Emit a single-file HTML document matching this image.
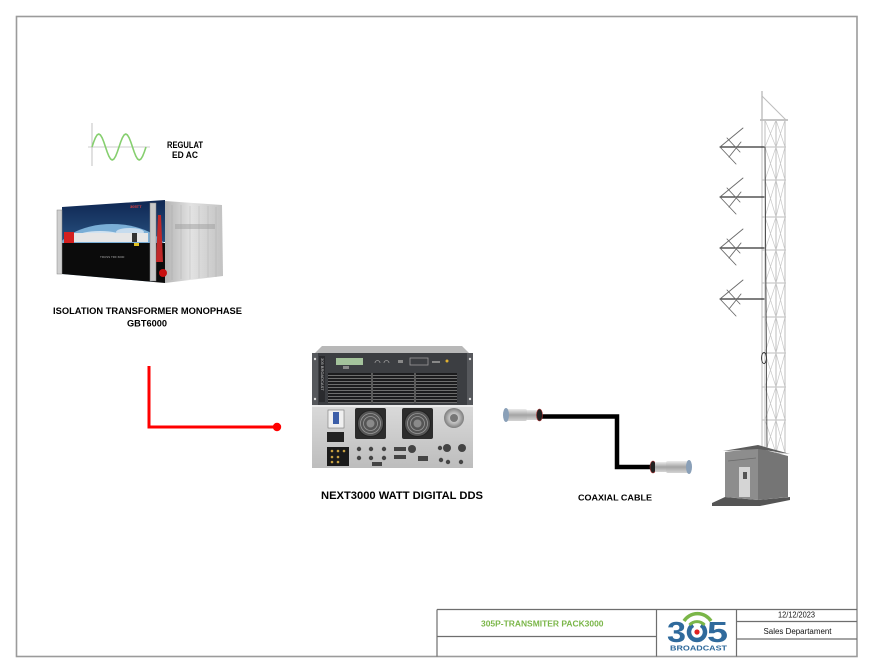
<!DOCTYPE html>
<html><head><meta charset="utf-8"><style>
html,body{margin:0;padding:0;background:#fff;}
svg{display:block;}
text{font-family:"Liberation Sans",Arial,sans-serif;}
</style></head><body>
<svg width="875" height="670" viewBox="0 0 875 670" xmlns="http://www.w3.org/2000/svg">
<defs>
 <linearGradient id="side" x1="0" x2="1" y1="0" y2="0">
  <stop offset="0" stop-color="#b4b4b4"/><stop offset="0.45" stop-color="#e2e2e2"/><stop offset="1" stop-color="#c2c2c2"/>
 </linearGradient>
 <linearGradient id="metal" x1="0" x2="0" y1="0" y2="1">
  <stop offset="0" stop-color="#ececec"/><stop offset="0.5" stop-color="#a4a4a4"/><stop offset="1" stop-color="#d4d4d4"/>
 </linearGradient>
 <radialGradient id="knob"><stop offset="0" stop-color="#f2f2f2"/><stop offset="0.6" stop-color="#b4b4b4"/><stop offset="1" stop-color="#7c7c7c"/></radialGradient>
 <pattern id="vent" width="4" height="3" patternUnits="userSpaceOnUse"><rect width="4" height="3" fill="#1c1c1e"/><rect y="0" width="4" height="1" fill="#6e6e6e"/></pattern>
 <linearGradient id="sky" x1="0" x2="0" y1="0" y2="1"><stop offset="0" stop-color="#0e2550"/><stop offset="1" stop-color="#27507f"/></linearGradient>
 <linearGradient id="lower" x1="0" x2="0" y1="0" y2="1"><stop offset="0" stop-color="#dadada"/><stop offset="1" stop-color="#bdbdbd"/></linearGradient>
 <clipPath id="front"><polygon points="62,207 165,200 165,283 62,274"/></clipPath>
</defs>

<!-- page frame -->
<rect x="16.5" y="16.5" width="840.5" height="640" fill="none" stroke="#9b9b9b" stroke-width="1.6"/>

<!-- sine wave -->
<g stroke="#9a9a9a" stroke-width="0.6">
 <line x1="92" y1="123" x2="92" y2="166"/>
 <line x1="88" y1="147" x2="150" y2="147"/>
</g>
<polyline fill="none" stroke="#86cf6f" stroke-width="1.6" stroke-linejoin="round" points="92,147 93.69,142 95.38,137.8 97.06,135 98.75,134 100.44,135 102.13,137.8 103.81,142 105.5,147 107.19,152 108.88,156.2 110.56,159 112.25,160 113.94,159 115.63,156.2 117.31,152 119,147 120.69,142 122.38,137.8 124.06,135 125.75,134 127.44,135 129.13,137.8 130.81,142 132.5,147 134.19,152 135.88,156.2 137.56,159 139.25,160 140.94,159 142.63,156.2 144.31,152 146,147"/>
<text x="167" y="148" font-size="9" font-weight="bold" textLength="36" lengthAdjust="spacingAndGlyphs">REGULAT</text>
<text x="172" y="158" font-size="9" font-weight="bold" textLength="26" lengthAdjust="spacingAndGlyphs">ED AC</text>

<!-- isolation transformer -->
<polygon points="165,201 222,205 223,276 165,283" fill="url(#side)"/>
<g stroke="#8e8e8e" stroke-width="0.5" opacity="0.45">
 <line x1="172" y1="205" x2="172" y2="280"/><line x1="181" y1="205" x2="181" y2="279"/><line x1="190" y1="206" x2="190" y2="279"/>
 <line x1="199" y1="206" x2="199" y2="278"/><line x1="208" y1="206" x2="208" y2="277"/><line x1="216" y1="207" x2="216" y2="277"/>
</g>
<rect x="175" y="224" width="40" height="5" fill="#9a9a9a" opacity="0.45"/>
<g clip-path="url(#front)">
 <rect x="60" y="198" width="110" height="44" fill="url(#sky)"/>
 <ellipse cx="112" cy="258" rx="58" ry="34" fill="#7aaed6"/>
 <ellipse cx="100" cy="236" rx="22" ry="5" fill="#e8f0f8" opacity="0.8"/>
 <ellipse cx="130" cy="232" rx="14" ry="4" fill="#e8f0f8" opacity="0.7"/>
 <polygon points="60,243 170,243 170,290 60,290" fill="#0b0b0b"/>
</g>
<rect x="68" y="233" width="80" height="9" fill="#e6e6e6"/>
<rect x="64" y="232" width="10" height="11" fill="#d42020"/>
<rect x="132" y="233" width="5" height="9" fill="#333"/>
<rect x="134" y="243" width="5" height="3" fill="#e0c020"/>
<text x="100" y="258" font-size="3" fill="#aaa">TRUSS TRF 6000</text>
<rect x="57" y="210" width="5" height="64" fill="#cfcfcf" stroke="#888" stroke-width="0.5"/>
<rect x="150" y="203" width="6" height="78" fill="#c8c8c8" stroke="#888" stroke-width="0.5"/>
<polygon points="158,215 161,215 163,262 156,262" fill="#c02828"/>
<circle cx="163" cy="273" r="4" fill="#c81010"/>
<text x="130" y="208" font-size="4" fill="#e04040" font-weight="bold">305TT</text>
<text x="53" y="314" font-size="9.5" font-weight="bold" textLength="189" lengthAdjust="spacingAndGlyphs">ISOLATION TRANSFORMER MONOPHASE</text>
<text x="127" y="326.5" font-size="9.5" font-weight="bold" textLength="40" lengthAdjust="spacingAndGlyphs">GBT6000</text>

<!-- red connector -->
<path d="M149,366 V427 H277" fill="none" stroke="#ff0000" stroke-width="3"/>
<circle cx="277" cy="427" r="4.2" fill="#ff0000"/>

<!-- transmitter -->
<polygon points="322,346 462,346 469,353 315,353" fill="#b8b8b8"/>
<rect x="312" y="353" width="161" height="52" fill="#3c3e42"/>
<rect x="312" y="353" width="6" height="52" fill="#56585c"/>
<rect x="467" y="353" width="6" height="52" fill="#56585c"/>
<g fill="#ddd"><circle cx="315" cy="359" r="1.2"/><circle cx="315" cy="399" r="1.2"/><circle cx="470" cy="359" r="1.2"/><circle cx="470" cy="399" r="1.2"/></g>
<rect x="319" y="356" width="6" height="46" fill="#2a2b2e"/>
<text transform="translate(321,358) rotate(90)" font-size="4" fill="#ccc">305 BROADCAST</text>
<rect x="336" y="358" width="27" height="7" fill="#a4c39c"/>
<rect x="343" y="366" width="6" height="3" fill="#8a8a8a"/>
<g fill="none" stroke="#9a9a9a" stroke-width="0.8">
 <path d="M375,363 a2.5,2.5 0 0 1 5,0"/><path d="M384,363 a2.5,2.5 0 0 1 5,0"/>
 <rect x="410" y="358" width="18" height="7"/>
</g>
<rect x="398" y="360" width="5" height="3" fill="#888"/>
<rect x="432" y="361" width="8" height="2" fill="#888"/>
<circle cx="447" cy="361" r="1.5" fill="#e0b030"/>
<rect x="328" y="373" width="129" height="30" fill="url(#vent)"/>
<rect x="371" y="373" width="2" height="30" fill="#5a5a5a"/>
<rect x="414" y="373" width="2" height="30" fill="#5a5a5a"/>
<rect x="312" y="405" width="161" height="63" fill="url(#lower)"/>
<rect x="312" y="405" width="161" height="2" fill="#ececec"/>
<g>
 <rect x="355" y="408" width="31" height="31" rx="2" fill="#2c2c2c"/>
 <circle cx="370.5" cy="423.5" r="13" fill="#555" stroke="#222"/>
 <circle cx="370.5" cy="423.5" r="10" fill="none" stroke="#999" stroke-width="0.8"/>
 <circle cx="370.5" cy="423.5" r="7" fill="none" stroke="#999" stroke-width="0.8"/>
 <circle cx="370.5" cy="423.5" r="4" fill="#8a8a8a"/>
 <rect x="402" y="408" width="31" height="31" rx="2" fill="#2c2c2c"/>
 <circle cx="417.5" cy="423.5" r="13" fill="#555" stroke="#222"/>
 <circle cx="417.5" cy="423.5" r="10" fill="none" stroke="#999" stroke-width="0.8"/>
 <circle cx="417.5" cy="423.5" r="7" fill="none" stroke="#999" stroke-width="0.8"/>
 <circle cx="417.5" cy="423.5" r="4" fill="#8a8a8a"/>
</g>
<circle cx="454" cy="418" r="10" fill="url(#knob)"/>
<circle cx="454" cy="418" r="4" fill="#777"/>
<rect x="328" y="410" width="16" height="18" fill="#f0f0f0" stroke="#777" stroke-width="0.6"/>
<rect x="333" y="412" width="6" height="12" fill="#3c5ea8"/>
<rect x="327" y="432" width="17" height="10" fill="#222"/>
<rect x="327" y="447" width="22" height="19" fill="#1a1a1a"/>
<g fill="#c8a040"><circle cx="332" cy="451" r="1.3"/><circle cx="338" cy="451" r="1.3"/><circle cx="344" cy="451" r="1.3"/><circle cx="332" cy="457" r="1.3"/><circle cx="338" cy="457" r="1.3"/><circle cx="332" cy="462" r="1.3"/><circle cx="338" cy="462" r="1.3"/></g>
<g fill="#444">
 <circle cx="359" cy="449" r="2.2"/><circle cx="359" cy="458" r="2.2"/><circle cx="371" cy="449" r="2.2"/><circle cx="371" cy="458" r="2.2"/>
 <circle cx="384" cy="449" r="2.2"/><circle cx="384" cy="458" r="2.2"/>
 <rect x="394" y="447" width="12" height="4"/><rect x="394" y="455" width="12" height="4"/>
 <rect x="372" y="462" width="10" height="4"/>
 <circle cx="412" cy="449" r="4"/><circle cx="440" cy="448" r="2.2"/><circle cx="447" cy="448" r="4"/><circle cx="462" cy="448" r="4"/>
 <rect x="418" y="456" width="10" height="5"/><circle cx="441" cy="460" r="2.2"/><circle cx="448" cy="462" r="2.2"/><circle cx="461" cy="462" r="2.2"/>
</g>
<text x="321" y="499" font-size="10.7" font-weight="bold" textLength="162" lengthAdjust="spacingAndGlyphs">NEXT3000 WATT DIGITAL DDS</text>

<!-- coaxial cable -->
<path d="M541,416.5 H617 V467 H652" fill="none" stroke="#000" stroke-width="4.5"/>
<rect x="505" y="409" width="22" height="12" rx="2" fill="url(#metal)"/>
<rect x="527" y="410" width="11" height="10" fill="url(#metal)"/>
<ellipse cx="506" cy="415" rx="3" ry="7" fill="#8aa0b8"/>
<ellipse cx="539.5" cy="415" rx="3" ry="6" fill="#222" stroke="#a33" stroke-width="0.6"/>
<ellipse cx="653" cy="467" rx="3" ry="6" fill="#222" stroke="#a33" stroke-width="0.6"/>
<rect x="655" y="462" width="11" height="10" fill="url(#metal)"/>
<rect x="666" y="461" width="23" height="12" rx="2" fill="url(#metal)"/>
<ellipse cx="689" cy="467" rx="3" ry="7" fill="#8aa0b8"/>
<text x="578" y="500.5" font-size="8.5" font-weight="bold" textLength="74" lengthAdjust="spacingAndGlyphs">COAXIAL CABLE</text>

<!-- tower -->
<g stroke="#bdbdbd" stroke-width="1" fill="none">
 <line x1="762" y1="91" x2="762" y2="120" stroke-width="1.4"/>
 <line x1="762" y1="96" x2="786" y2="120"/>
 <line x1="760" y1="120" x2="788" y2="120" stroke-width="1.8"/>
 <line x1="762" y1="120" x2="762" y2="453"/><line x1="765" y1="120" x2="765" y2="453"/>
 <line x1="776" y1="120" x2="776" y2="453"/><line x1="785" y1="120" x2="785" y2="453"/>
 <line x1="762" y1="147" x2="786" y2="147"/><line x1="762" y1="180" x2="786" y2="180"/><line x1="762" y1="217" x2="786" y2="217"/>
 <line x1="762" y1="250" x2="786" y2="250"/><line x1="762" y1="283" x2="786" y2="283"/><line x1="762" y1="317" x2="786" y2="317"/>
 <line x1="762" y1="353" x2="786" y2="353"/><line x1="762" y1="387" x2="786" y2="387"/><line x1="762" y1="420" x2="786" y2="420"/>
 <line x1="762" y1="453" x2="786" y2="453"/>
 <g stroke-width="0.7" stroke="#c8c8c8">
  <path d="M765,120 L776,147 M776,120 L765,147 M776,120 L785,147 M785,120 L776,147"/>
  <path d="M765,147 L776,180 M776,147 L765,180 M776,147 L785,180 M785,147 L776,180"/>
  <path d="M765,180 L776,217 M776,180 L765,217 M776,180 L785,217 M785,180 L776,217"/>
  <path d="M765,217 L776,250 M776,217 L765,250 M776,217 L785,250 M785,217 L776,250"/>
  <path d="M765,250 L776,283 M776,250 L765,283 M776,250 L785,283 M785,250 L776,283"/>
  <path d="M765,283 L776,317 M776,283 L765,317 M776,283 L785,317 M785,283 L776,317"/>
  <path d="M765,317 L776,353 M776,317 L765,353 M776,317 L785,353 M785,317 L776,353"/>
  <path d="M765,353 L776,387 M776,353 L765,387 M776,353 L785,387 M785,353 L776,387"/>
  <path d="M765,387 L776,420 M776,387 L765,420 M776,387 L785,420 M785,387 L776,420"/>
  <path d="M765,420 L776,453 M776,420 L765,453 M776,420 L785,453 M785,420 L776,453"/>
 </g>
</g>
<!-- antennas -->
<g fill="none" stroke-linecap="round">
 <g stroke="#333" stroke-width="1.2">
  <line x1="720" y1="147" x2="764" y2="147"/><line x1="720" y1="197" x2="764" y2="197"/>
  <line x1="720" y1="248" x2="764" y2="248"/><line x1="720" y1="299" x2="764" y2="299"/>
 </g>
 <g stroke="#6a6a6a" stroke-width="0.9">
  <path d="M720,147 L743,128 M720,147 L736,164 M727,138 L740,152 M729,157 L741,142"/>
  <path d="M720,197 L743,178 M720,197 L736,214 M727,188 L740,202 M729,207 L741,192"/>
  <path d="M720,248 L743,229 M720,248 L736,265 M727,239 L740,253 M729,258 L741,243"/>
  <path d="M720,299 L743,280 M720,299 L736,316 M727,290 L740,304 M729,309 L741,294"/>
 </g>
 <line x1="765" y1="147" x2="767" y2="447" stroke="#333" stroke-width="0.8"/>
 <ellipse cx="764" cy="358" rx="2.5" ry="5.5" stroke="#333" stroke-width="0.9"/>
</g>
<!-- shelter -->
<polygon points="712,503 725,497 758,500 790,497 790,500 760,506 712,506" fill="#555"/>
<polygon points="725,452 758,448 758,500 725,497" fill="#8d8d8d"/>
<polygon points="758,448 788,456 788,497 758,500" fill="#757575"/>
<polygon points="723,451 758,445 790,454 758,449" fill="#5c5c5c"/>
<line x1="728" y1="461" x2="756" y2="458" stroke="#6a6a6a" stroke-width="0.8"/>
<rect x="739" y="467" width="11" height="30" fill="#d5d5d5"/>
<rect x="743" y="472" width="4" height="7" fill="#555"/>

<!-- title block -->
<g stroke="#6e6e6e" stroke-width="1.2" fill="none">
 <line x1="437" y1="609.5" x2="857" y2="609.5"/>
 <line x1="437" y1="609.5" x2="437" y2="656.5"/>
 <line x1="656.5" y1="609.5" x2="656.5" y2="656.5"/>
 <line x1="736.5" y1="609.5" x2="736.5" y2="656.5"/>
 <line x1="437" y1="636.5" x2="656.5" y2="636.5"/>
 <line x1="736.5" y1="621.5" x2="857" y2="621.5"/>
 <line x1="736.5" y1="639" x2="857" y2="639"/>
</g>
<text x="481" y="626.5" font-size="8" font-weight="bold" fill="#7ab648" textLength="122.5" lengthAdjust="spacingAndGlyphs">305P-TRANSMITER PACK3000</text>
<text x="778" y="617.5" font-size="8" fill="#111" textLength="37" lengthAdjust="spacingAndGlyphs">12/12/2023</text>
<text x="763.5" y="634" font-size="8" fill="#111" textLength="68" lengthAdjust="spacingAndGlyphs">Sales Departament</text>
<!-- logo -->
<text x="667" y="642" font-size="29" font-weight="bold" fill="#2f6a9c" textLength="19" lengthAdjust="spacingAndGlyphs">3</text>
<path d="M701,625.1 A8,8 0 1 1 693,625.1" fill="none" stroke="#2f6a9c" stroke-width="4.5"/>
<circle cx="697" cy="632" r="2.6" fill="#e02020"/>
<text x="707" y="642" font-size="29" font-weight="bold" fill="#2f6a9c" textLength="21" lengthAdjust="spacingAndGlyphs">5</text>
<path d="M684,621 A16,16 0 0 1 711,621" fill="none" stroke="#7ab648" stroke-width="3.5"/>
<path d="M689.5,625 A10,10 0 0 1 704.5,625" fill="none" stroke="#7ab648" stroke-width="3"/>
<text x="670" y="650.5" font-size="7" font-weight="bold" fill="#2f6a9c" textLength="57" lengthAdjust="spacingAndGlyphs">BROADCAST</text>
</svg>
</body></html>
